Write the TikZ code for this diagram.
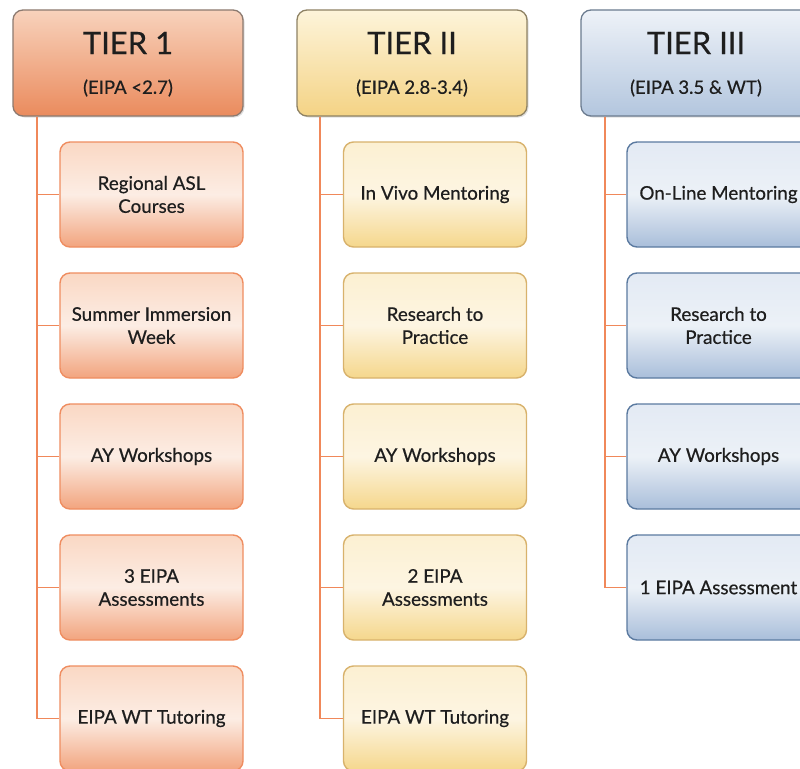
\documentclass[tikz,border=0pt]{standalone}
\usepackage{fontspec}
\setmainfont{Lato}[FakeBold=0.5]
\usetikzlibrary{shadows,calc}
\definecolor{lineor}{HTML}{F0885A}
\definecolor{txt}{HTML}{1E1E1E}
\definecolor{aTop}{HTML}{F8D2BC}\definecolor{aBot}{HTML}{EA8B5D}\definecolor{aDr}{HTML}{8C7A70}
\definecolor{acTop}{HTML}{FAD8C4}\definecolor{acMid}{HTML}{FCEDE4}\definecolor{acBot}{HTML}{F2A47E}\definecolor{acDr}{HTML}{EF8D60}
\definecolor{bTop}{HTML}{FDF4DA}\definecolor{bBot}{HTML}{F4D385}\definecolor{bDr}{HTML}{8E8264}
\definecolor{bcTop}{HTML}{FCF0D2}\definecolor{bcMid}{HTML}{FDF5E2}\definecolor{bcBot}{HTML}{F5D78C}\definecolor{bcDr}{HTML}{D8B26C}
\definecolor{cTop}{HTML}{EEF2F8}\definecolor{cBot}{HTML}{B3C6DE}\definecolor{cDr}{HTML}{6B7B8F}
\definecolor{ccTop}{HTML}{E3EAF4}\definecolor{ccMid}{HTML}{ECF1F7}\definecolor{ccBot}{HTML}{A9BEDA}\definecolor{ccDr}{HTML}{5B7AA0}
\tikzset{
  hdr/.style={rounded corners=10pt, minimum width=230pt, minimum height=106pt, inner sep=0pt, line width=1.3pt,
     drop shadow={shadow xshift=1.5pt, shadow yshift=-1.5pt, opacity=0.25}},
  kid/.style={rounded corners=10pt, minimum width=183pt, minimum height=105pt, inner sep=0pt, line width=1.4pt,
     text=txt, align=center, font=\fontsize{18.8}{23}\selectfont},
  hA/.style={hdr, draw=aDr, top color=aTop, bottom color=aBot},
  hB/.style={hdr, draw=bDr, top color=bTop, bottom color=bBot},
  hC/.style={hdr, draw=cDr, top color=cTop, bottom color=cBot},
  kA/.style={kid, draw=acDr, top color=acTop, bottom color=acBot, middle color=acMid},
  kB/.style={kid, draw=bcDr, top color=bcTop, bottom color=bcBot, middle color=bcMid},
  kC/.style={kid, draw=ccDr, top color=ccTop, bottom color=ccBot, middle color=ccMid},
  ttl/.style={text=txt, font=\fontsize{31}{34}\selectfont, inner sep=0pt},
  sub/.style={text=txt, font=\fontsize{18.5}{20}\selectfont, inner sep=0pt},
  conn/.style={draw=lineor, line width=1.8pt}
}
\begin{document}
\begin{tikzpicture}[x=1pt,y=-1pt]
\useasboundingbox (0,0) rectangle (800,768);
\clip (0,0) rectangle (800,768);
\fill[white] (0,0) rectangle (800,768);
% headers
\node[hA] (h1) at (128,63) {};
\node[hB] (h2) at (412,63) {};
\node[hC] (h3) at (696,63) {};
\node[ttl] (t1) at (128,43) {TIER 1};
\node[ttl] (t2) at (412,43) {TIER II};
\node[ttl] (t3) at (696,43) {TIER III};
\node[sub] (s1) at (128,88) {(EIPA <2.7)};
\node[sub] (s2) at (412,88) {(EIPA 2.8-3.4)};
\node[sub] (s3) at (696,88) {(EIPA 3.5 \& WT)};
% tier 1 children
\node[kA] (a1) at (151.5,194.5) {Regional ASL\\Courses};
\node[kA] (a2) at (151.5,325.5) {Summer Immersion\\Week};
\node[kA] (a3) at (151.5,456.5) {AY Workshops};
\node[kA] (a4) at (151.5,587.5) {3 EIPA\\Assessments};
\node[kA] (a5) at (151.5,718.5) {EIPA WT Tutoring};
% tier 2 children
\node[kB] (b1) at (435,194.5) {In Vivo Mentoring};
\node[kB] (b2) at (435,325.5) {Research to\\Practice};
\node[kB] (b3) at (435,456.5) {AY Workshops};
\node[kB] (b4) at (435,587.5) {2 EIPA\\Assessments};
\node[kB] (b5) at (435,718.5) {EIPA WT Tutoring};
% tier 3 children
\node[kC] (c1) at (718.5,194.5) {On-Line Mentoring};
\node[kC] (c2) at (718.5,325.5) {Research to\\Practice};
\node[kC] (c3) at (718.5,456.5) {AY Workshops};
\node[kC] (c4) at (718.5,587.5) {1 EIPA Assessment};
% connectors
\coordinate (ja) at ([xshift=25pt]h1.south west);
\coordinate (jb) at ([xshift=24pt]h2.south west);
\coordinate (jc) at ([xshift=25pt]h3.south west);
\foreach \k in {1,...,5}{\draw[conn] (ja) |- (a\k.west);}
\foreach \k in {1,...,5}{\draw[conn] (jb) |- (b\k.west);}
\foreach \k in {1,...,4}{\draw[conn] (jc) |- (c\k.west);}
\end{tikzpicture}
\end{document}
